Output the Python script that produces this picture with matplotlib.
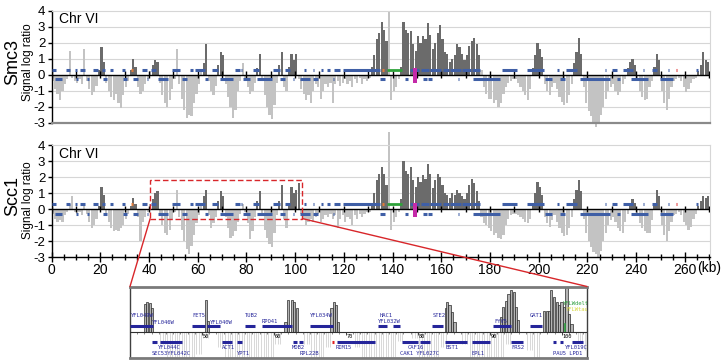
import matplotlib
matplotlib.use("Agg")
import matplotlib.pyplot as plt
import numpy as np
from matplotlib.patches import Rectangle, ConnectionPatch

plt.rcParams['font.family'] = ['Liberation Sans', 'DejaVu Sans']

# ---------------- data (1-kb bins along chromosome VI) ----------------
smc3 = [
 -0.4, -0.9, -1.2, -1.6, -1.0, -0.6, -0.3, 1.5, -0.2, -0.4,
 -0.5, -0.3, -0.6, 1.6, -0.4, -0.9, -1.3, -1.1, -0.7, 0.3,
 1.7, 0.8, -0.5, -1.0, -1.4, -1.6, -1.2, -1.8, -2.1, -1.3,
 -0.8, -0.4, 0.3, 1.0, 0.5, -0.8, -1.2, -1.0, -0.6, -0.3,
 0.2, 0.6, 0.9, 0.8, -0.5, -1.3, -1.8, -2.0, -1.6, -0.9,
 -0.3, 1.6, -0.6, -1.5, -2.2, -2.7, -2.5, -2.6, -1.8, -1.2,
 -0.6, 0.3, 0.7, 1.9, -0.4, -1.0, -1.3, -0.7, 0.6, 1.4,
 1.2, -0.6, -1.4, -2.0, -2.7, -2.2, -1.0, -0.4, 0.7, -0.3,
 -0.8, -1.2, -1.0, -0.5, 0.4, 1.3, -0.4, -1.3, -2.0, -2.5,
 -2.8, -1.9, -0.5, 0.6, 1.4, -0.8, -1.0, 0.5, 1.3, 0.9,
 1.3, -0.3, -0.9, -1.2, -1.6, -1.3, -1.8, -1.0, -0.6, -0.8,
 -1.5, -1.0, -0.6, -0.8, -0.5, -1.8, -0.6, -0.4, -0.7, -0.5,
 -0.3, -0.6, -0.4, -0.8, -0.3, -0.5, -0.2, -0.6, -0.3, -0.4,
 -0.2, 0.5, 1.2, 2.2, 2.6, 3.3, 2.8, 2.1, 4.0, -1.6,
 -1.0, -0.8, -0.3, 0.5, 3.3, 2.8, 2.6, 2.7, 1.9, 1.5,
 2.4, 2.0, 2.4, 2.2, 3.2, 2.5, 1.6, 2.0, 2.6, 3.1,
 2.2, 1.4, 1.3, 0.8, 1.0, 1.2, 1.9, 1.7, 1.3, 0.9,
 1.2, 1.8, 2.1, 2.3, 1.9, 1.2, 0.3, -0.8, -1.2, -1.5,
 -1.5, -1.8, -1.6, -2.0, -1.8, -1.2, -0.8, -0.5, -0.4, -0.3,
 -0.3, -0.5, -0.8, -1.0, -1.3, -1.6, -0.9, 0.4, 1.2, 2.0,
 1.6, 1.1, -0.6, -1.0, -1.3, -0.8, -0.5, -0.9, -1.4, -1.7,
 -1.9, -1.8, -1.3, -0.6, 0.7, 1.4, 2.3, 1.3, -0.8, -1.8,
 -2.3, -2.6, -3.0, -3.3, -3.1, -2.5, -2.0, -1.5, -1.0, -0.8,
 -0.6, -1.0, -1.3, -1.1, -0.6, -0.3, 0.4, 0.8, 1.0, 0.6,
 -0.4, -1.0, -1.4, -1.6, -1.5, -0.8, -0.4, 0.5, 1.3, 0.9,
 -1.0, -1.8, -2.2, -1.5, -0.8, -0.4, -0.3, -0.2, -0.4, -0.8,
 -1.1, -0.9, -0.5, -0.3, -0.2, 0.2, 0.6, 1.4, 0.9, 0.8,
]

scc1 = [
 -0.3, -0.6, -0.8, -0.7, -0.8, -0.4, -0.2, 0.3, 0.8, -0.2,
 -0.3, -0.2, -0.4, 0.2, -0.3, -0.8, -1.2, -1.0, -0.6, 0.2,
 1.4, 0.9, -0.4, -0.8, -1.2, -1.4, -1.3, -1.4, -1.2, -1.0,
 -0.6, -0.3, 0.2, 0.7, 0.3, -0.5, -2.0, -0.8, -0.5, -0.2,
 0.3, 0.6, 1.0, 1.1, -0.4, -1.0, -1.5, -1.6, -1.3, -0.7,
 -0.2, 1.2, -0.5, -1.3, -2.0, -2.5, -2.8, -2.3, -1.6, -0.9,
 -0.4, 0.3, 0.8, 1.2, -0.4, -1.2, -0.9, -0.5, 0.5, 1.1,
 0.8, -0.5, -1.2, -1.8, -1.7, -1.4, -0.8, -0.3, 0.3, -0.2,
 -0.9, -1.9, -1.4, -0.5, 0.5, 1.1, -0.4, -1.3, -1.8, -2.2,
 -2.4, -1.5, -0.4, 0.5, 1.5, -0.6, -1.2, 0.4, 1.4, 1.0,
 1.2, 1.6, -0.3, -0.6, -1.0, -0.8, -0.6, -0.8, -0.5, -0.3,
 -0.8, -0.6, -0.4, -0.5, -0.3, -0.6, -0.4, -1.2, -0.6, -0.4,
 -0.8, -0.5, -0.6, -1.0, -0.4, -0.6, -0.3, -0.5, -0.3, -0.2,
 -0.2, 0.4, 1.0, 1.8, 2.2, 2.6, 2.2, 1.5, 4.8, -1.3,
 -0.8, -0.5, -0.2, 0.6, 3.0, 2.4, 2.2, 2.6, 1.8, 1.4,
 2.0, 1.7, 2.1, 1.9, 2.8, 2.2, 1.3, 1.8, 2.2, 2.0,
 1.5, 1.0, 0.9, 0.7, 1.0, 0.9, 1.2, 1.0, 0.8, 0.6,
 1.0, 1.5, 1.9, 1.6, 1.1, 0.5, -0.5, -0.9, -1.0, -1.2,
 -1.4, -1.6, -1.5, -1.8, -1.9, -1.6, -1.0, -0.6, -0.4, -0.3,
 -0.3, -0.4, -0.5, -0.6, -0.8, -0.9, -0.6, 0.3, 1.0, 1.7,
 1.4, 0.9, -0.5, -0.9, -1.1, -0.7, -0.4, -0.8, -1.2, -1.5,
 -1.7, -1.6, -1.2, -0.5, 0.6, 1.2, 1.8, 1.1, -0.6, -1.5,
 -2.0, -2.4, -2.7, -2.8, -3.0, -2.6, -2.0, -1.5, -1.0, -0.7,
 -0.5, -0.8, -1.2, -1.4, -1.5, -0.8, -0.3, 0.3, 0.6, 0.4,
 -0.4, -0.9, -1.2, -1.4, -1.5, -1.5, -0.7, 0.4, 1.2, 0.8,
 -1.0, -1.6, -2.0, -1.4, -0.8, -0.4, -0.3, -0.2, -0.4, -0.8,
 -1.0, -1.3, -1.1, -0.6, -0.3, 0.2, 0.5, 0.8, 0.7, 0.8,
]

# significant binding clusters (dark grey)
dark_regions = [(19, 22), (32, 35), (41, 44), (62, 64), (68, 71), (84, 86), (93, 95),
                (97, 102), (131, 138), (143, 176), (197, 202), (214, 218), (236, 240),
                (247, 250), (265, 270)]

# ORFs: Watson strand (above axis) and Crick strand (below axis), kb
genes_w = [(0, 2), (6, 7.5), (9.8, 10.4), (11.7, 13.7), (17, 19), (20.6, 22), (24, 25.4),
           (29, 30.2), (37, 39), (41, 43), (49.3, 52.7), (56.8, 58.2), (59, 63), (65.7, 68.5),
           (75.3, 77.3), (77.6, 78.2), (82.9, 85), (91, 93.8), (95.9, 98), (103.7, 104.3),
           (107.2, 107.8), (110.7, 111.3), (113, 114.3), (116, 118.4), (119.8, 134.8),
           (147, 151), (151.5, 155), (155.5, 160), (160.5, 163), (163.5, 168), (168.5, 172),
           (172.5, 176), (184.8, 191), (195, 202), (207.7, 208.3), (211, 215.6), (227, 227.5),
           (230, 232), (234.7, 238.8), (242.7, 243.3), (246.3, 248.4), (253, 253.5),
           (264.5, 265.2)]
genes_c = [(1.4, 4.2), (10.2, 10.8), (14.4, 15.5), (21, 22.6), (29.5, 30.8), (33.6, 35.6),
           (39, 39.7), (43.8, 47.9), (53.4, 55.5), (63, 64.4), (69, 74.6), (78.7, 81.4),
           (84.2, 90.4), (93.8, 95.9), (99, 99.6), (102, 106), (107.5, 109.5), (115.4, 116),
           (134.8, 136.9), (145, 146.5), (152.6, 154), (154.7, 156), (166.8, 167.3),
           (173, 184), (202.6, 205.3), (208.7, 210.8), (217, 229.3), (232, 233.4),
           (238, 245), (249.8, 255.3)]
orange_marks = [(32.8, 33.6), (135.8, 136.6)]
red_marks = [(256.3, 256.9)]
cen_green = (137.6, 143.7)
magenta_bar = (148.4, 150.0)

# zoomed inset (40-103.5 kb of Scc1): individual probes above the axis
inset_kb = [42.08, 42.4, 42.8, 43.1, 50.56, 50.8, 61.6, 62.0, 62.46, 62.8, 63.15,
            68.0, 68.33, 68.6, 68.9, 83.85, 84.08, 84.4, 84.8, 85.1,
            91.5, 91.85, 92.2, 92.6, 92.96, 93.3, 93.6, 93.9,
            97.5, 97.9, 98.2, 98.5, 98.9, 99.3, 99.6, 99.96, 100.3, 100.65, 101.0, 101.35]
inset_val = [1.0, 1.07, 1.05, 0.85, 1.15, 0.4, 0.35, 1.15, 1.15, 1.07, 0.85,
             0.85, 1.07, 0.98, 0.35, 0.85, 1.07, 0.98, 0.7, 0.35,
             0.54, 0.9, 1.1, 1.37, 1.49, 1.43, 0.9, 0.42,
             0.75, 0.75, 0.75, 1.49, 1.25, 1.07, 0.95, 1.07, 0.9, 1.6, 0.65, 0.3]
inset_genes_w = [(40, 43.2), (48.6, 50.4), (50.7, 52.5), (56, 57.4), (58.3, 62.5), (65, 68.2),
                 (74.4, 75.7), (76.5, 77.5), (82, 83.5), (90.4, 93), (95.6, 97.2)]
inset_genes_c = [(43, 43.8), (44.2, 47.2), (52.8, 54.2), (54.9, 55.6), (62.6, 63.2), (63.5, 64),
                 (68.75, 74), (77.8, 80), (80.3, 81.7), (83.75, 86.8), (87.5, 90), (93, 94.6),
                 (98.75, 99.2), (99.8, 100.1), (101.4, 103)]
inset_labels = [("YFL049W", 40.1, 0.6), ("YFL046W", 43.0, 0.33), ("FET5", 48.6, 0.6),
                ("YFL040W", 51.1, 0.33), ("TUB2", 56.0, 0.6), ("RPO41", 58.3, 0.36),
                ("YFL034W", 65.0, 0.6), ("HAC1", 74.7, 0.6), ("YFL032W", 74.4, 0.37),
                ("STE2", 82.1, 0.6), ("FYV5", 90.6, 0.37), ("GAT1", 95.6, 0.58),
                ("YFL044C", 43.9, -0.57), ("SEC53YFL042C", 43.05, -0.78), ("ACT1", 52.8, -0.57),
                ("YPT1", 54.9, -0.78), ("MOB2", 62.5, -0.57), ("RPL22B", 63.6, -0.78),
                ("RIM15", 68.6, -0.57), ("CAF16", 78.6, -0.57), ("CAK1 YFL027C", 77.5, -0.78),
                ("BST1", 83.9, -0.57), ("EPL1", 87.5, -0.78), ("FRS2", 93.05, -0.57),
                ("YFL019C", 100.4, -0.57), ("PAU5 LPD1", 98.75, -0.78)]
inset_ticks = [50, 60, 70, 80, 90, 100]

# ---------------- styling ----------------
DARK = '#6b6b6b'
LIGHT = '#c3c3c3'
GRID = '#d6d6d6'
BLUE = '#3f5fa6'
NAVY = '#25259a'
RED = '#d8262a'

W, H = 724, 363
fig = plt.figure(figsize=(W / 100, H / 100), dpi=100)

def fx(px):
    return px / W

def fy(py):
    return 1 - py / H

XL, XR = 51.5, 710
XMAX = 270.3
ax1 = fig.add_axes([fx(XL), fy(122.5), (XR - XL) / W, (122.5 - 10.5) / H])
ax2 = fig.add_axes([fx(XL), fy(257), (XR - XL) / W, (257 - 145) / H])

kb = np.arange(len(smc3))


def draw_panel(ax, vals, bottom_axis):
    vals = np.asarray(vals)
    dark = np.zeros(len(vals), bool)
    for s, e in dark_regions:
        dark |= (kb >= s) & (kb < e)
    cols = np.where((vals > 0) & dark, DARK, LIGHT)
    ax.set_xlim(0, XMAX)
    ax.set_ylim(-3, 4)
    for g in [-2, -1, 1, 2, 3]:
        ax.axhline(g, color=GRID, lw=0.8, zorder=0)
    ax.bar(kb + 0.05, vals, width=0.9, align='edge', color=cols, linewidth=0,
           zorder=2, clip_on=False)
    ax.axhline(0, color='black', lw=1.0, zorder=4)
    ax.vlines(np.arange(0, 271, 10), -0.2, 0.2, color='black', lw=1.0, zorder=4)
    for s, e in genes_w:
        ax.plot([s, e], [0.3, 0.3], color=BLUE, lw=2.2, solid_capstyle='butt', zorder=5)
    for s, e in genes_c:
        ax.plot([s, e], [-0.3, -0.3], color=BLUE, lw=2.2, solid_capstyle='butt', zorder=5)
    for s, e in orange_marks:
        ax.plot([s, e], [0.3, 0.3], color='#e07a3a', lw=2.2, solid_capstyle='butt', zorder=6)
    for s, e in red_marks:
        ax.plot([s, e], [0.3, 0.3], color='#e03a3a', lw=2.2, solid_capstyle='butt', zorder=6)
    ax.plot(list(cen_green), [0.3, 0.3], color='#2ea23a', lw=2.0, solid_capstyle='butt', zorder=6)
    ax.add_patch(Rectangle((magenta_bar[0], -0.5), magenta_bar[1] - magenta_bar[0], 0.9,
                           color='#c42aa8', zorder=6, lw=0))
    ax.set_yticks(range(-3, 5))
    ax.set_yticklabels([str(v) for v in range(-3, 5)], fontsize=9.5)
    ax.tick_params(axis='y', length=3, width=1, pad=1.5, colors='black')
    ax.spines['left'].set_color('black')
    ax.spines['left'].set_linewidth(1)
    ax.spines['top'].set_color(GRID)
    ax.spines['right'].set_color(GRID)
    ax.text(3, 3.45, 'Chr VI', fontsize=10, ha='left', va='center', zorder=7)
    if bottom_axis:
        ax.spines['bottom'].set_color('black')
        ax.spines['bottom'].set_linewidth(1)
        ax.set_xticks(range(0, 261, 20))
        ax.set_xticklabels([str(v) for v in range(0, 261, 20)], fontsize=10)
        ax.set_xticks(np.arange(0, 271, 5), minor=True)
        ax.tick_params(axis='x', which='major', direction='inout', length=7, width=1, pad=1)
        ax.tick_params(axis='x', which='minor', direction='inout', length=4, width=1)
    else:
        ax.spines['bottom'].set_color('#8a8a8a')
        ax.spines['bottom'].set_linewidth(1.6)
        ax.set_xticks([])


draw_panel(ax1, smc3, False)
draw_panel(ax2, scc1, True)

fig.text(fx(13), fy(62), 'Smc3', rotation=90, fontsize=13, ha='center', va='center')
fig.text(fx(27.5), fy(62), 'Signal log ratio', rotation=90, fontsize=8.5, ha='center', va='center')
fig.text(fx(13), fy(196), 'Scc1', rotation=90, fontsize=13, ha='center', va='center')
fig.text(fx(27.5), fy(200), 'Signal log ratio', rotation=90, fontsize=8.5, ha='center', va='center')
fig.text(fx(709), fy(268), '(kb)', fontsize=10, ha='center', va='center')

# dashed zoom rectangle
ax2.add_patch(Rectangle((40.5, -0.6), 62.5, 2.4, fill=False, edgecolor=RED, ls=(0, (4, 2)),
                        lw=1.0, zorder=8, clip_on=False))

# ---------------- inset ----------------
IT, IB = 286.5, 357.5
inset = fig.add_axes([fx(130), fy(IB), (587 - 130) / W, (IB - IT) / H])
scale = 28.0
inset.set_xlim(40, 103.5)
inset.set_ylim(-(IB - 332) / scale, (332 - IT) / scale)
inset.set_xticks([])
inset.set_yticks([])
for sp in ['top', 'bottom']:
    inset.spines[sp].set_color('#7a7a7a')
    inset.spines[sp].set_linewidth(2)
for sp in ['left', 'right']:
    inset.spines[sp].set_color('#404040')
    inset.spines[sp].set_linewidth(1)

sc = np.asarray(scc1)
sel = (kb >= 40) & (kb <= 103)
neg = sel & (sc < 0)
for k, v in zip(kb[neg], sc[neg]):
    for off in (0.2, 0.55, 0.85):
        inset.vlines(k + off, v * 1.1, 0, color='#d2d2d2', lw=0.6, zorder=1)
inset.bar(inset_kb, inset_val, width=0.3, color='#b4b4b4', edgecolor='#2a2a2a', lw=0.5, zorder=2)
inset.axhline(0, color='#303030', lw=0.8, zorder=3)
inset.vlines(np.arange(41, 104, 1), -0.07, 0, color='#303030', lw=0.4, zorder=3)
for t in inset_ticks:
    inset.vlines(t, -0.12, 0, color='#303030', lw=0.6, zorder=3)
    inset.text(t + 0.1, -0.07, str(t), fontsize=3.8, family='DejaVu Sans Mono',
               ha='left', va='top', zorder=4)
for s, e in inset_genes_w:
    inset.plot([s, e], [0.22, 0.22], color=NAVY, lw=2.2, solid_capstyle='butt', zorder=4)
for s, e in inset_genes_c:
    inset.plot([s, e], [-0.36, -0.36], color=NAVY, lw=2.2, solid_capstyle='butt', zorder=4)
inset.plot([68.1, 68.4], [-0.36, -0.36], color='#e02020', lw=2.2, solid_capstyle='butt', zorder=5)
for txt, x, y in inset_labels:
    inset.text(x, y, txt, fontsize=4.0, family='DejaVu Sans Mono', color=NAVY,
               ha='left', va='center', zorder=5, clip_on=True)
inset.text(100.2, 1.02, 'YFLWdelta1', fontsize=4.0, family='DejaVu Sans Mono', color='#30a040',
           ha='left', va='center', zorder=5, clip_on=True)
inset.text(100.6, 0.82, 'YFLWtau1', fontsize=4.0, family='DejaVu Sans Mono', color='#d8d840',
           ha='left', va='center', zorder=5, clip_on=True)
inset.plot([100.4, 100.4], [0.05, 0.3], color='#30a040', lw=1.2, zorder=5)

# connector lines
for xa, xb in [(40.5, 0), (103.0, 1)]:
    con = ConnectionPatch(xyA=(xa, -0.6), coordsA=ax2.transData, xyB=(xb, 1),
                          coordsB=inset.transAxes, color=RED, lw=1.0, zorder=9)
    fig.add_artist(con)

fig.savefig('out.png', dpi=100)
